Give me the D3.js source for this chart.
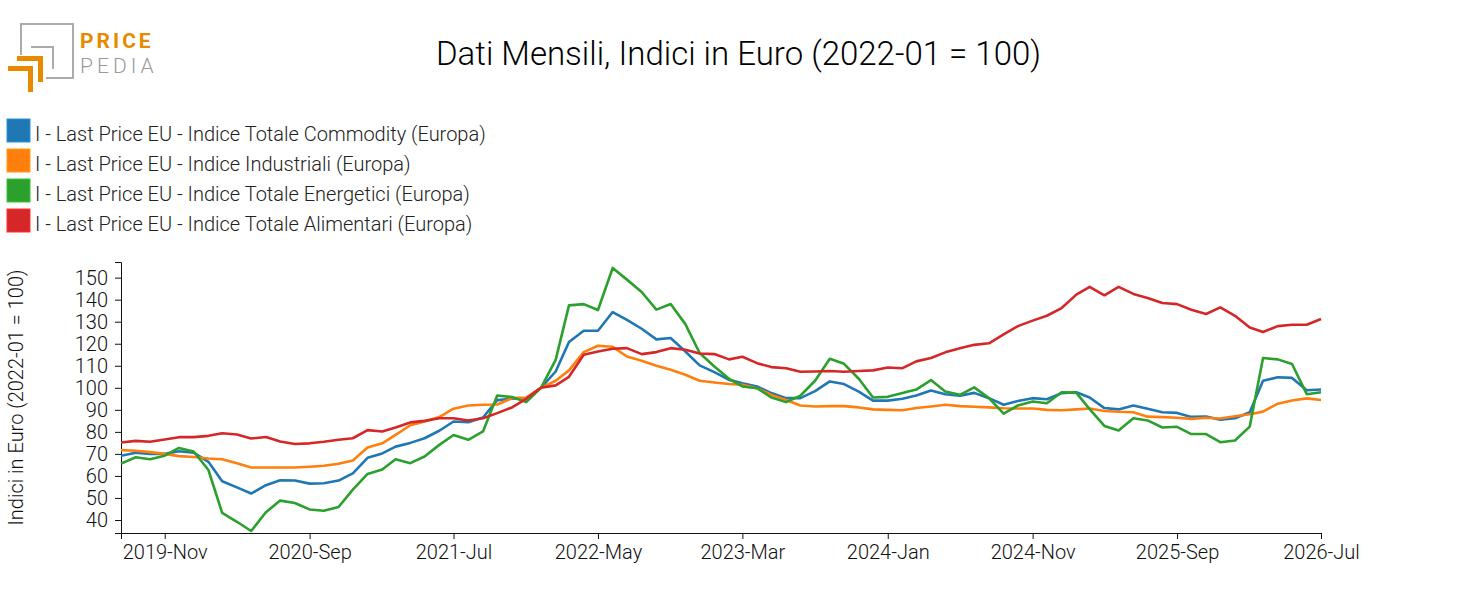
<!DOCTYPE html>
<html>
<head>
<meta charset="utf-8">
<script src="https://cdn.jsdelivr.net/npm/d3@7"></script>
<style>
  body { margin: 0; background: #fff; }
  svg { font-family: Roboto, sans-serif; font-weight: 300; }
</style>
</head>
<body>
<div id="chart"></div>
<script>
  // monthly index values, 2019-08 .. 2026-07 (2022-01 = 100)
  var startMonth = '2019-08';
  var seriesNames = [
    'I - Last Price EU - Indice Totale Commodity (Europa)',
    'I - Last Price EU - Indice Industriali (Europa)',
    'I - Last Price EU - Indice Totale Energetici (Europa)',
    'I - Last Price EU - Indice Totale Alimentari (Europa)'
  ];
  var seriesColors = ['#1f77b4', '#ff7f0e', '#2ca02c', '#d62728'];

  var commodity = [
    69.2, 70.5, 70.0, 70.0, 71.2, 70.6, 66.4, 57.6, 54.8, 52.0, 55.8, 58.0,
    57.9, 56.5, 56.7, 57.9, 61.2, 68.2, 70.2, 73.3, 75.0, 77.1, 80.5, 84.7,
    84.4, 86.5, 94.4, 95.0, 95.3, 100.0, 107.4, 120.8, 125.9, 125.9, 134.4, 130.8,
    126.8, 122.0, 122.6, 116.5, 110.2, 107.1, 103.6, 102.1, 100.6, 97.6, 95.3, 95.3,
    98.5, 102.9, 101.7, 98.3, 94.2, 94.2, 95.0, 96.5, 98.8, 97.1, 96.4, 97.7,
    95.3, 92.3, 94.0, 95.3, 94.8, 97.6, 98.0, 95.6, 90.8, 90.2, 92.0, 90.5,
    88.9, 88.6, 86.8, 87.0, 85.5, 86.2, 88.9, 103.2, 104.8, 104.5, 98.9, 99.2
  ];
  var industriali = [
    71.7, 71.4, 70.8, 70.0, 69.0, 68.6, 67.9, 67.6, 65.8, 63.8, 63.8, 63.8,
    63.8, 64.2, 64.6, 65.5, 67.0, 72.9, 74.8, 78.6, 83.0, 84.7, 86.7, 90.5,
    92.0, 92.3, 92.4, 95.3, 95.6, 100.0, 103.2, 107.9, 116.2, 119.1, 118.6, 114.2,
    112.3, 110.0, 108.2, 105.9, 103.2, 102.4, 101.7, 101.4, 99.8, 96.8, 94.5, 92.0,
    91.5, 91.7, 91.7, 91.1, 90.2, 90.0, 89.8, 90.8, 91.5, 92.3, 91.7, 91.4,
    91.1, 90.7, 90.6, 90.6, 90.0, 89.8, 90.2, 90.6, 89.5, 89.1, 88.9, 86.9,
    86.7, 86.4, 85.9, 86.4, 86.1, 87.1, 88.0, 89.2, 92.8, 94.2, 95.2, 94.5
  ];
  var energetici = [
    65.6, 68.5, 67.6, 69.2, 72.7, 71.1, 62.7, 43.2, 39.2, 35.0, 43.5, 48.8,
    47.7, 44.8, 44.2, 45.9, 53.8, 60.9, 62.9, 67.6, 65.8, 68.8, 74.1, 78.6,
    76.4, 80.2, 96.5, 95.8, 93.5, 100.0, 112.7, 137.4, 138.0, 135.3, 154.4, 149.1,
    143.5, 135.5, 138.0, 128.9, 115.8, 109.7, 104.1, 100.6, 99.8, 95.6, 93.5, 96.4,
    103.2, 113.2, 110.9, 104.1, 95.6, 95.9, 97.6, 99.2, 103.5, 98.3, 96.8, 100.2,
    95.3, 88.3, 92.0, 93.8, 93.0, 98.0, 97.7, 90.3, 82.7, 80.6, 86.2, 85.2,
    82.0, 82.3, 79.0, 79.0, 75.3, 76.1, 82.4, 113.5, 112.9, 110.8, 97.1, 98.0
  ];
  var alimentari = [
    75.2, 75.9, 75.5, 76.5, 77.6, 77.6, 78.2, 79.4, 78.8, 77.0, 77.7, 75.6,
    74.5, 74.8, 75.5, 76.4, 77.1, 80.8, 80.2, 82.0, 84.3, 85.0, 86.2, 86.2,
    85.2, 86.2, 88.5, 91.1, 95.0, 100.0, 101.1, 105.0, 115.0, 116.5, 117.7, 118.0,
    115.3, 116.2, 118.0, 117.3, 115.6, 115.3, 112.9, 114.1, 111.2, 109.4, 108.9, 107.3,
    107.4, 107.6, 107.3, 107.6, 107.9, 109.2, 108.9, 112.0, 113.5, 116.1, 118.0, 119.5,
    120.2, 124.2, 128.0, 130.5, 132.7, 136.2, 142.3, 145.8, 142.0, 145.8, 142.6, 140.8,
    138.5, 138.0, 135.4, 133.5, 136.5, 132.7, 127.4, 125.3, 128.0, 128.6, 128.6, 131.2
  ];
  var xTickMonths = ['2019-11', '2020-09', '2021-07', '2022-05', '2023-03',
                     '2024-01', '2024-11', '2025-09', '2026-07'];
  var yTickValues = [40, 50, 60, 70, 80, 90, 100, 110, 120, 130, 140, 150];
  var yDomain = [34.1, 157.1];

  var width = 1477, height = 615;
  var margin = {left: 121, right: 156, top: 262, bottom: 82};
  var parseMonth = d3.timeParse('%Y-%m');

  var svg = d3.select('#chart')
      .append('svg')
      .attr('width', width)
      .attr('height', height);

  // logo
  var logo = svg.append('g').attr('class', 'logo');
  logo.append('rect')
    .attr('x', 21).attr('y', 24).attr('width', 52).attr('height', 54)
    .attr('fill', 'none').attr('stroke', '#ababab').attr('stroke-width', 2);
  logo.append('path')
    .attr('d', 'M31,47 H53 V69')
    .attr('fill', 'none').attr('stroke', '#ababab').attr('stroke-width', 2);
  logo.append('rect').attr('x', 16).attr('y', 55).attr('width', 30).attr('height', 28).attr('fill', '#fff');
  logo.append('path')
    .attr('d', 'M17,56 H43 V82 H38 V61 H17 Z')
    .attr('fill', '#e68a00');
  logo.append('rect').attr('x', 6).attr('y', 64).attr('width', 30).attr('height', 30).attr('fill', '#fff');
  logo.append('path')
    .attr('d', 'M8,66 H33 V92 H28 V71 H8 Z')
    .attr('fill', '#e68a00');
  logo.append('text')
    .attr('x', 80).attr('y', 47.5)
    .style('font-size', '21px')
    .style('font-weight', 700)
    .style('letter-spacing', '3px')
    .attr('fill', '#e68a00')
    .text('PRICE');
  logo.append('text')
    .attr('x', 80).attr('y', 72.5)
    .style('font-size', '21px')
    .style('letter-spacing', '4px')
    .attr('fill', '#9a9a9a')
    .text('PEDIA');

  // title
  svg.append('text')
    .attr('x', width / 2)
    .attr('y', 65)
    .style('text-anchor', 'middle')
    .style('font-size', '33px')
    .attr('fill', '#000')
    .text('Dati Mensili, Indici in Euro (2022-01 = 100)');

  // legend
  var legend = svg.append('g').attr('class', 'legend');
  seriesNames.forEach(function(name, i) {
    legend.append('rect')
      .attr('x', 7).attr('y', 119 + i * 30)
      .attr('width', 23).attr('height', 23)
      .attr('fill', seriesColors[i])
      .attr('stroke', d3.rgb(seriesColors[i]).brighter(0.6))
      .attr('stroke-width', 1);
    legend.append('text')
      .attr('x', 35).attr('y', 141 + i * 30)
      .style('font-size', '20px')
      .attr('fill', '#222')
      .text(name);
  });

  var x = d3.scaleTime()
      .domain([parseMonth(startMonth), parseMonth('2026-07')])
      .range([margin.left, width - margin.right]);
  var y = d3.scaleLinear()
      .domain(yDomain)
      .range([height - margin.bottom, margin.top]);

  var xAxis = svg.append('g')
      .attr('transform', 'translate(0,' + (height - margin.bottom) + ')')
      .call(d3.axisBottom(x)
        .tickValues(xTickMonths.map(parseMonth))
        .tickFormat(d3.timeFormat('%Y-%b')));
  xAxis.selectAll('text')
      .attr('y', 12)
      .style('font-size', '20px')
      .style('font-family', 'Roboto, sans-serif')
      .attr('fill', '#111');

  var yAxis = svg.append('g')
      .attr('transform', 'translate(' + margin.left + ',0)')
      .call(d3.axisLeft(y).tickValues(yTickValues).tickPadding(7));
  yAxis.selectAll('text')
      .style('font-size', '20px')
      .style('font-family', 'Roboto, sans-serif')
      .attr('fill', '#111');
  svg.selectAll('.domain, .tick line').attr('stroke', '#111');

  svg.append('text')
    .attr('transform', 'translate(23,' + ((margin.top + height - margin.bottom) / 2) + ') rotate(-90)')
    .style('text-anchor', 'middle')
    .style('font-size', '20px')
    .attr('fill', '#111')
    .text('Indici in Euro (2022-01 = 100)');

  // lines
  var allSeries = [commodity, industriali, energetici, alimentari];
  var start = parseMonth(startMonth);
  var line = d3.line()
      .x(function(d, i) { return x(d3.timeMonth.offset(start, i)); })
      .y(function(d) { return y(d); });

  svg.append('g').selectAll('path')
    .data(allSeries)
    .enter()
    .append('path')
      .attr('d', line)
      .attr('fill', 'none')
      .attr('stroke', function(d, i) { return seriesColors[i]; })
      .attr('stroke-width', 2.6)
      .attr('stroke-linejoin', 'round');
</script>
</body>
</html>
